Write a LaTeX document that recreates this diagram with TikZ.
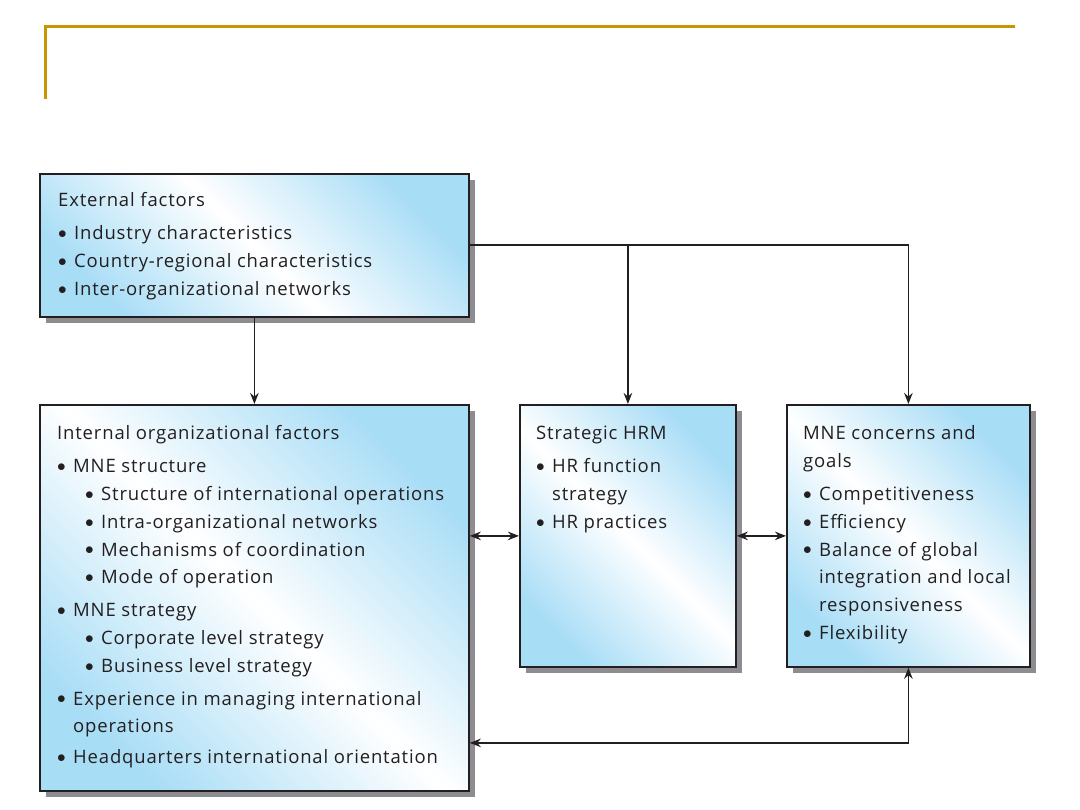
\documentclass[tikz,border=0pt]{standalone}
\usepackage{fontspec}
\setmainfont{Open Sans}[LetterSpace=4.5]
\usetikzlibrary{shadows,arrows.meta}

\definecolor{goldline}{RGB}{200,150,0}
\definecolor{boxblue}{RGB}{168,221,246}
\definecolor{boxedge}{RGB}{35,31,32}
\definecolor{shadowgray}{RGB}{140,140,145}

% bullet lines
\newcommand{\blt}{\makebox[16pt][l]{\raisebox{1.2pt}{$\bullet$}}}
\newcommand{\itm}[1]{\par\hangindent=16pt\hangafter=1\noindent\blt#1}
\newcommand{\subitm}[1]{\par\hangindent=44pt\hangafter=1\noindent\hspace*{28pt}\blt#1}
\newcommand{\gap}{\par\vspace{5pt}}

\tikzset{
  factorbox/.style={rectangle, draw=boxedge, line width=1.8pt, anchor=north west, inner sep=0pt,
    top color=boxblue, bottom color=boxblue, middle color=white, shading angle=-45,
    drop shadow={shadow xshift=6.5pt, shadow yshift=-6.5pt, fill=shadowgray, opacity=1}},
  boxtext/.style={anchor=base west, inner sep=0pt, text=boxedge, font=\fontsize{18.5}{27.8}\selectfont},
  link/.style={line width=1.8pt, draw=boxedge}
}

\begin{document}
\begin{tikzpicture}[x=1pt, y=1pt, >={Stealth[length=11pt, width=8.5pt]}]
    \useasboundingbox (0,0) rectangle (1080,-810);

    % Gold frame
    \draw[goldline, line width=3pt] (1015,-27) -- (45,-27) -- (45,-99);

    % Boxes
    \node[factorbox, minimum width=429pt, minimum height=143pt] (ext) at (39,-173) {};
    \node[factorbox, minimum width=429pt, minimum height=386pt] (int) at (39,-404) {};
    \node[factorbox, minimum width=216pt, minimum height=262pt] (hrm) at (519,-404) {};
    \node[factorbox, minimum width=243pt, minimum height=262pt] (mne) at (786,-404) {};

    % Texts
    \node[boxtext] (ext-txt) at (58,-207) {\parbox[t]{400pt}{\raggedright External factors\gap
        \itm{Industry characteristics}
        \itm{Country-regional characteristics}
        \itm{Inter-organizational networks}}};
    \node[boxtext] (int-txt) at (57,-440) {\parbox[t]{405pt}{\raggedright Internal organizational factors\gap
        \itm{MNE structure}
        \subitm{Structure of international operations}
        \subitm{Intra-organizational networks}
        \subitm{Mechanisms of coordination}
        \subitm{Mode of operation}\gap
        \itm{MNE strategy}
        \subitm{Corporate level strategy}
        \subitm{Business level strategy}\gap
        \itm{Experience in managing international\newline operations}\par\vspace{3pt}
        \itm{Headquarters international orientation}}};
    \node[boxtext] (hrm-txt) at (536,-440) {\parbox[t]{190pt}{\raggedright Strategic HRM\gap
        \itm{HR function\newline strategy}
        \itm{HR practices}}};
    \node[boxtext] (mne-txt) at (803,-440) {\parbox[t]{220pt}{\raggedright MNE concerns and\newline goals\gap
        \itm{Competitiveness}
        \itm{Efficiency}
        \itm{Balance of global\newline integration and local\newline responsiveness}
        \itm{Flexibility}}};

    % Connectors
    \draw[link, ->] (ext.south) -- (int.north);
    \draw[link, ->] (ext.east) -| (mne.north);
    \draw[link, ->] (ext.east -| hrm.north) -- (hrm.north);
    \draw[link, <->] (int.east |- hrm.west) -- (hrm.west);
    \draw[link, <->] (hrm.east) -- (mne.west);
    \draw[link, <->] ([yshift=-145pt]int.east) -| (mne.south);
\end{tikzpicture}
\end{document}
